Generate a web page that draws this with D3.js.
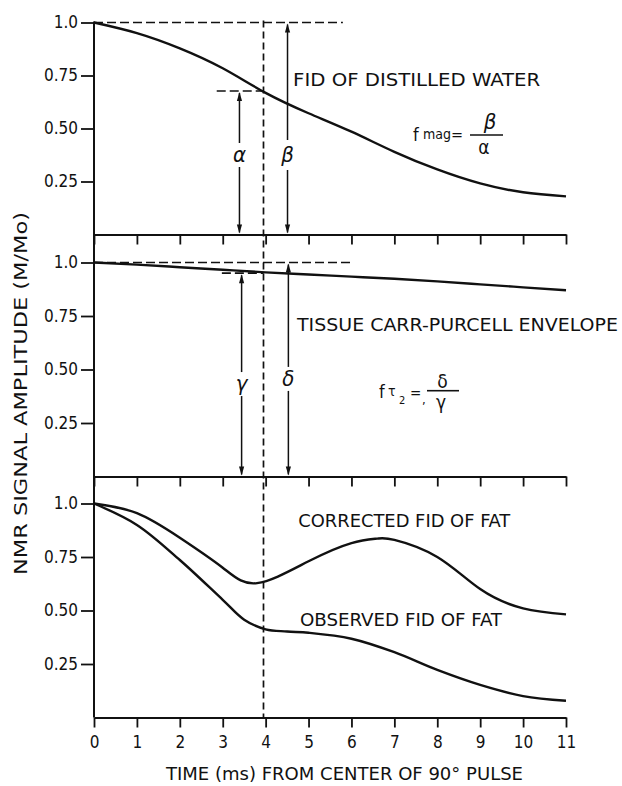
<!DOCTYPE html>
<html><head><meta charset="utf-8">
<script src="https://cdn.jsdelivr.net/npm/d3@7"></script>
<style>
body{margin:0;background:#fff}
svg{display:block}
text{font-family:"DejaVu Sans Condensed","DejaVu Sans",sans-serif;fill:#111}
</style>
</head><body>
<svg id="c" width="622" height="786"></svg>
<script>
// ---------- data ----------
const xTickValues = [0,1,2,3,4,5,6,7,8,9,10,11];
const xTickLabels = ["0","1","2","3","4","5","6","7","8","9","10","11"];
const yTickValues = [0.25,0.5,0.75,1.0];
const yTickLabels = ["0.25","0.50","0.75","1.0"];

const waterX = [0,1,2,3,4,5,6,7,8,9,10,11];
const waterY = [1.0,0.95,0.878,0.784,0.668,0.572,0.485,0.39,0.307,0.241,0.199,0.18];

const tissueX = [0,1,2,3,4,5,6,7,8,9,10,11];
const tissueY = [1.0,0.99,0.978,0.966,0.954,0.944,0.934,0.924,0.912,0.898,0.884,0.87];

const correctedX = [0,1,2,3,3.8,5,6,6.6,7,8,9,10,11];
const correctedY = [1.0,0.955,0.84,0.70,0.628,0.73,0.815,0.836,0.83,0.75,0.60,0.51,0.482];

const observedX = [0,1,2,3,3.5,4,4.5,5,6,7,8,9,10,11];
const observedY = [1.0,0.90,0.736,0.55,0.457,0.412,0.402,0.396,0.368,0.305,0.222,0.152,0.10,0.078];

const markerTime = 3.95;
// annotation arrows: [x, topLevel, labelLevel, label]
const topArrows = [[3.39,0.677,0.375,"α"],[4.51,1.0,0.375,"β"]];
const midArrows = [[3.44,0.95,0.432,"γ"],[4.53,1.0,0.456,"δ"]];

// ---------- layout ----------
const svg = d3.select("#c");
const x = d3.scaleLinear().domain([0,11]).range([94,566]);
const panelBottoms = [234.5,476.5,717.5];
const panelUnit = [212,214,214];
const ys = panelBottoms.map((b,i)=>d3.scaleLinear().domain([0,1]).range([b,b-panelUnit[i]]));
const ink = "#111";

const line = (xs,vs,y,c)=>d3.line().curve(c)
  .x((d,i)=>x(xs[i])).y(d=>y(d))(vs);

// y axes
ys.forEach((y,i)=>{
  const g = svg.append("g").attr("transform",`translate(${x(0)},0)`)
    .call(d3.axisLeft(y).tickValues(yTickValues).tickSize(13).tickSizeOuter(0).tickPadding(3)
      .tickFormat((d,j)=>yTickLabels[j]));
  g.select(".domain").remove();
  g.selectAll("line").attr("stroke",ink).attr("stroke-width",1.8);
  g.selectAll("text").attr("font-size",17).attr("fill",ink)
    .attr("font-family","DejaVu Sans, sans-serif");
});
// main vertical axis line
svg.append("line").attr("x1",x(0)).attr("x2",x(0)).attr("y1",ys[0](1)-1).attr("y2",panelBottoms[2])
  .attr("stroke",ink).attr("stroke-width",2);

// horizontal borders with ticks pointing down
panelBottoms.forEach((b,i)=>{
  const g = svg.append("g").attr("transform",`translate(0,${b})`)
    .call(d3.axisBottom(x).tickValues(xTickValues).tickSize(10).tickSizeOuter(0).tickPadding(8)
      .tickFormat((d,j)=> i===2 ? xTickLabels[j] : ""));
  g.select(".domain").attr("stroke",ink).attr("stroke-width",2);
  g.selectAll("line").attr("stroke",ink).attr("stroke-width",1.8);
  g.selectAll("text").attr("font-size",17).attr("fill",ink)
    .attr("font-family","DejaVu Sans, sans-serif");
});

// curves
const curve = (xs,vs,y,c)=>svg.append("path").attr("d",line(xs,vs,y,c)).attr("fill","none")
  .attr("stroke",ink).attr("stroke-width",2.4).attr("stroke-linejoin","round");
curve(waterX,waterY,ys[0],d3.curveNatural);
curve(tissueX,tissueY,ys[1],d3.curveNatural);
curve(correctedX,correctedY,ys[2],d3.curveNatural);
curve(observedX,observedY,ys[2],d3.curveCatmullRom.alpha(0.5));

// dashed lines
const dash = (x1,y1,x2,y2,pat)=>svg.append("line").attr("x1",x1).attr("y1",y1).attr("x2",x2).attr("y2",y2)
  .attr("stroke",ink).attr("stroke-width",1.7).attr("stroke-dasharray",pat);
dash(x(0),ys[0](1),x(5.8),ys[0](1),"9,4");
dash(x(2.86),ys[0](0.677),x(markerTime),ys[0](0.677),"9,4");
dash(x(0),ys[1](1),x(6.0),ys[1](1),"9,4");
dash(x(2.98),ys[1](0.95),x(markerTime),ys[1](0.95),"9,4");
dash(x(markerTime),ys[0](1)-2,x(markerTime),panelBottoms[2],"7,4");

// arrows
function arrowHead(px,py,dir){ // dir -1 up, +1 down
  const L=9,W=2.6;
  svg.append("path").attr("d",`M${px},${py} L${px-W},${py-dir*L} L${px+W},${py-dir*L} Z`).attr("fill",ink);
}
function drawArrows(list,y){
  list.forEach(([xv,top,lab,txt])=>{
    const px=x(xv), yt=y(top), yb=y(0), yl=y(lab);
    const gap = txt==="β"?15:12;
    svg.append("line").attr("x1",px).attr("x2",px).attr("y1",yt+2).attr("y2",yl-gap)
      .attr("stroke",ink).attr("stroke-width",1.5);
    svg.append("line").attr("x1",px).attr("x2",px).attr("y1",yl+gap).attr("y2",yb-2)
      .attr("stroke",ink).attr("stroke-width",1.5);
    arrowHead(px,yt+1,-1);
    arrowHead(px,yb-1,1);
    svg.append("text").attr("x",px).attr("y",yl+7).attr("text-anchor","middle")
      .attr("font-size",22).attr("font-style","oblique").attr("font-family","DejaVu Sans, sans-serif").text(txt);
  });
}
drawArrows(topArrows,ys[0]);
drawArrows(midArrows,ys[1]);

// labels
function label(txt,xv,yv,y,w,fs){
  svg.append("text").attr("x",x(xv)).attr("y",y(yv)+fs*0.36).attr("font-size",fs)
    .attr("textLength",w).attr("lengthAdjust","spacingAndGlyphs").text(txt);
}
label("FID OF DISTILLED WATER",4.64,0.733,ys[0],247,18);
label("TISSUE CARR-PURCELL ENVELOPE",4.73,0.708,ys[1],321,18);
label("CORRECTED FID OF FAT",4.76,0.92,ys[2],212,18);
label("OBSERVED FID OF FAT",4.8,0.456,ys[2],202,18);

// x title
svg.append("text").attr("x",166).attr("y",780).attr("font-size",17)
  .attr("textLength",357).attr("lengthAdjust","spacingAndGlyphs")
  .text("TIME (ms) FROM CENTER OF 90° PULSE");
// y title
svg.append("text").attr("transform","translate(27,575) rotate(-90)").attr("font-size",17)
  .attr("textLength",363).attr("lengthAdjust","spacingAndGlyphs")
  .text("NMR SIGNAL AMPLITUDE (M/Mo)");

// formulas
const f1 = svg.append("g");
f1.append("text").attr("x",413).attr("y",141).attr("font-size",18).text("f");
f1.append("text").attr("x",423).attr("y",139).attr("font-size",14).text("mag");
f1.append("text").attr("x",451).attr("y",140).attr("font-size",16).text("=");
f1.append("line").attr("x1",470).attr("x2",503).attr("y1",135).attr("y2",135).attr("stroke",ink).attr("stroke-width",1.6);
f1.append("text").attr("x",490).attr("y",129).attr("text-anchor","middle").attr("font-size",22).attr("font-style","oblique").attr("font-family","DejaVu Sans, sans-serif").text("β");
f1.append("text").attr("x",484).attr("y",154).attr("text-anchor","middle").attr("font-size",19).attr("font-family","DejaVu Sans, sans-serif").text("α");

const f2 = svg.append("g");
f2.append("text").attr("x",379).attr("y",398).attr("font-size",18).text("f");
f2.append("text").attr("x",388).attr("y",396).attr("font-size",14).attr("font-family","DejaVu Sans, sans-serif").text("τ");
f2.append("text").attr("x",399).attr("y",404).attr("font-size",11).text("2");
f2.append("text").attr("x",410).attr("y",398).attr("font-size",15).text("=");
f2.append("text").attr("x",422).attr("y",404).attr("font-size",13).text(",");
f2.append("line").attr("x1",427).attr("x2",459).attr("y1",390.7).attr("y2",390.7).attr("stroke",ink).attr("stroke-width",1.6);
f2.append("text").attr("x",442.5).attr("y",388).attr("text-anchor","middle").attr("font-size",19).attr("font-family","DejaVu Sans, sans-serif").text("δ");
f2.append("text").attr("x",441).attr("y",409).attr("text-anchor","middle").attr("font-size",19).attr("font-family","DejaVu Sans, sans-serif").text("γ");
</script>
</body></html>
